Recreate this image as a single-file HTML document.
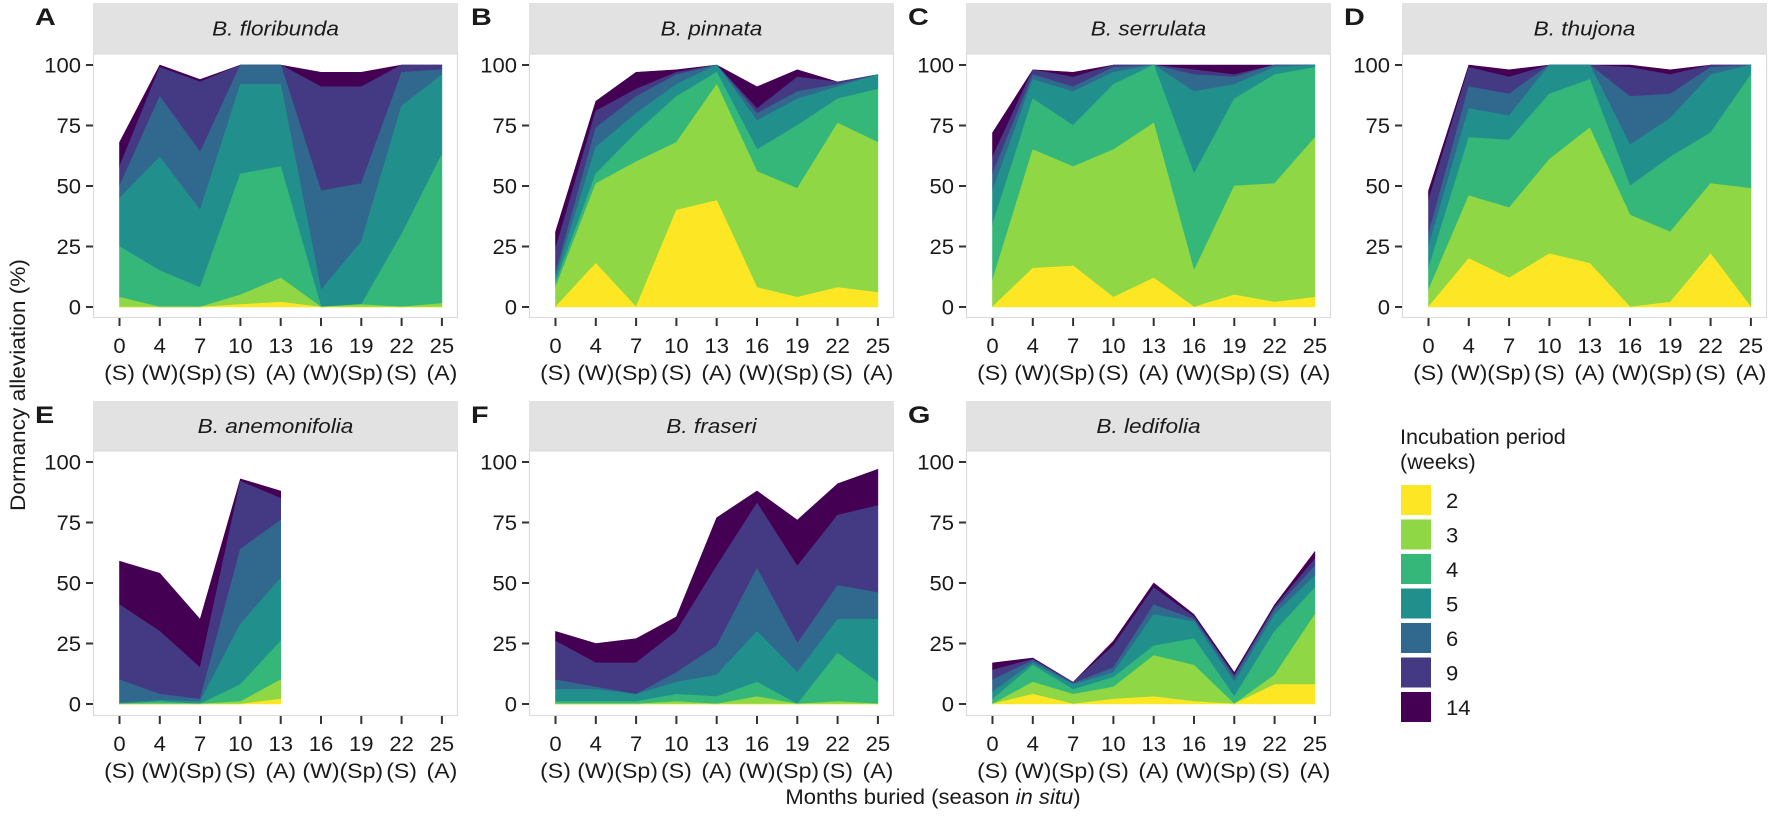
<!DOCTYPE html>
<html><head><meta charset="utf-8">
<style>
html,body{margin:0;padding:0;background:#fff;}
svg{display:block;}
text{font-family:"Liberation Sans",Arial,sans-serif;fill:#1a1a1a;}
</style></head>
<body>
<svg id="s" width="1772" height="817" viewBox="0 0 1772 817" xmlns="http://www.w3.org/2000/svg"></svg>
<script>
const NS="http://www.w3.org/2000/svg";
const svg=document.getElementById('s');
function el(t,a,p){const e=document.createElementNS(NS,t);for(const k in a)e.setAttribute(k,a[k]);(p||svg).appendChild(e);return e;}
function txt(s,x,y,o){o=o||{};const sx=o.sx||1.15;
 const g=el('g',{transform:`translate(${x},${y}) scale(${sx},1)`});
 const t=el('text',{x:0,y:0,'font-size':o.fs||20,'text-anchor':o.anchor||'middle','font-style':o.it?'italic':'normal','font-weight':o.bold?'bold':'normal'},g);
 if(o.html)t.innerHTML=s;else t.textContent=s;return t;}
const cols=["#FDE725","#8FD744","#35B779","#21908C","#31688E","#443A83","#440154"];
const lefts=[93,529,966,1402];
const rows=[{st:3,sb:54,pb:318,y100:65,y0:307},{st:401,sb:451,pb:716,y100:462,y0:704}];
const months=["0","4","7","10","13","16","19","22","25"];
const seasons=["(S)","(W)","(Sp)","(S)","(A)","(W)","(Sp)","(S)","(A)"];
const panels=[
 {L:"A",name:"B. floribunda",c:0,r:0,d:[[0,4,25,45,50,58,68],[0,0,15,62,87,99,100],[0,0,8,40,64,93,94],[1,5,55,92,100,100,100],[2,12,58,92,100,100,100],[0,0,0,7,48,91,97],[0,1,1,27,51,91,97],[0,0,30,83,97,100,100],[0,1.5,63,96,98,100,100]]},
 {L:"B",name:"B. pinnata",c:1,r:0,d:[[0,8,10,12,14,24,31],[18,51,55,66,74,81,85],[0,60,72,80,87,90,97],[40,68,87,92,96,97,98],[44,92,97,100,100,100,100],[8,56,65,77,80,82,91],[4,49,75,86,89,95,98],[8,76,86,91,92,93,93],[6,68,90,96,96,96,96]]},
 {L:"C",name:"B. serrulata",c:2,r:0,d:[[0,11,34,48,55,62,72],[16,65,86,94,96,98,98],[17,58,75,89,91,95,97],[4,65,92,97,99,100,100],[12,76,100,100,100,100,100],[0,15,55,89,96,98,100],[5,50,86,92,95,96,100],[2,51,96,99,100,100,100],[4,70,99,100,100,100,100]]},
 {L:"D",name:"B. thujona",c:3,r:0,d:[[0,7,16,25,30,44,48],[20,46,70,82,91,99,100],[12,41,69,79,88,95,98],[22,61,88,100,100,100,100],[18,74,94,100,100,100,100],[0,38,50,67,87,99,100],[2,31,62,78,88,96,98],[22,51,72,96,99,100,100],[0,49,96,100,100,100,100]]},
 {L:"E",name:"B. anemonifolia",c:0,r:1,d:[[0,0,0,0.5,10,41,59],[0,0,1,1.5,4,30,54],[0,0,0,1,2,15,35],[0,1,8,33,64,92,93],[2,10,26,52,76,85,88]]},
 {L:"F",name:"B. fraseri",c:1,r:1,d:[[0,0,1,6,10,26,30],[0,0,1,6,7,17,25],[0,0,1,4,4,17,27],[0,1,4,9,13,30,36],[0,0,3,12,24,57,77],[0,3,9,30,56,83,88],[0,0,0,13,25,57,76],[0,1,21,35,49,78,91],[0,0,9,35,46,82,97]]},
 {L:"G",name:"B. ledifolia",c:2,r:1,d:[[0,0,2,5,10,14,17],[4,9,16,17,18,18.5,19],[0,4,6,8,8.5,9,9],[2,7,11,13,15,24,26],[3,20,24,37,41,48,50],[1,16,27,34,35,36,37],[0,0,3,9,11,12,13],[8,12,30,37,39,40,41],[8,37,48,53,57,60,63]]}
];
panels.forEach(p=>{
 const L=lefts[p.c],R=L+365,row=rows[p.r];
 const X=i=>L+26.5+i*40.3, Y=v=>row.y0-(row.y0-row.y100)*v/100;
 el('rect',{x:L,y:row.st,width:R-L,height:row.sb-row.st,fill:'#e2e2e2'});
 txt(p.name,(L+R)/2,(row.st+row.sb)/2+7,{it:1,fs:20,sx:1.13});
 el('rect',{x:L+0.5,y:row.sb,width:R-L-1,height:row.pb-row.sb-0.5,fill:'#fff',stroke:'#dcdcdc','stroke-width':1.2});
 for(let k=6;k>=0;k--){
  let pts=[];
  p.d.forEach((c,i)=>pts.push(X(i).toFixed(1)+","+Y(c[k]).toFixed(1)));
  for(let i=p.d.length-1;i>=0;i--){pts.push(X(i).toFixed(1)+","+Y(k>0?p.d[i][k-1]:0).toFixed(1));}
  el('polygon',{points:pts.join(" "),fill:cols[k],stroke:cols[k],'stroke-width':0.6,'stroke-linejoin':'round'});
 }
 [0,25,50,75,100].forEach(v=>{
  el('line',{x1:L-7,x2:L,y1:Y(v),y2:Y(v),stroke:'#333','stroke-width':2});
  txt(String(v),L-12,Y(v)+7.5,{anchor:'end',fs:21,sx:1.05});
 });
 months.forEach((m,i)=>{
  el('line',{x1:X(i),x2:X(i),y1:row.pb,y2:row.pb+8,stroke:'#333','stroke-width':2});
  txt(m,X(i),row.pb+35,{fs:21,sx:1.05});
  txt(seasons[i],X(i),row.pb+62,{fs:21,sx:1.1});
 });
 txt(p.L,L-58,row.st+22,{anchor:'start',fs:24,bold:1,sx:1.2});
});
txt('Months buried (season <tspan font-style="italic">in situ</tspan>)',933,804,{fs:21,sx:1.05,html:1});
(function(){const g=el('g',{transform:'translate(25,385) rotate(-90) scale(1.08,1)'});
 const t=el('text',{x:0,y:0,'font-size':21,'text-anchor':'middle'},g);t.textContent='Dormancy alleviation (%)';})();
txt('Incubation period',1400,444,{anchor:'start',fs:21,sx:1.03});
txt('(weeks)',1400,469,{anchor:'start',fs:21,sx:1.03});
["2","3","4","5","6","9","14"].forEach((l,i)=>{
 const y=485+i*34.5;
 el('rect',{x:1401,y:y,width:30,height:30,fill:cols[i]});
 txt(l,1446,y+23,{anchor:'start',fs:21,sx:1.05});
});
</script>
</body></html>
